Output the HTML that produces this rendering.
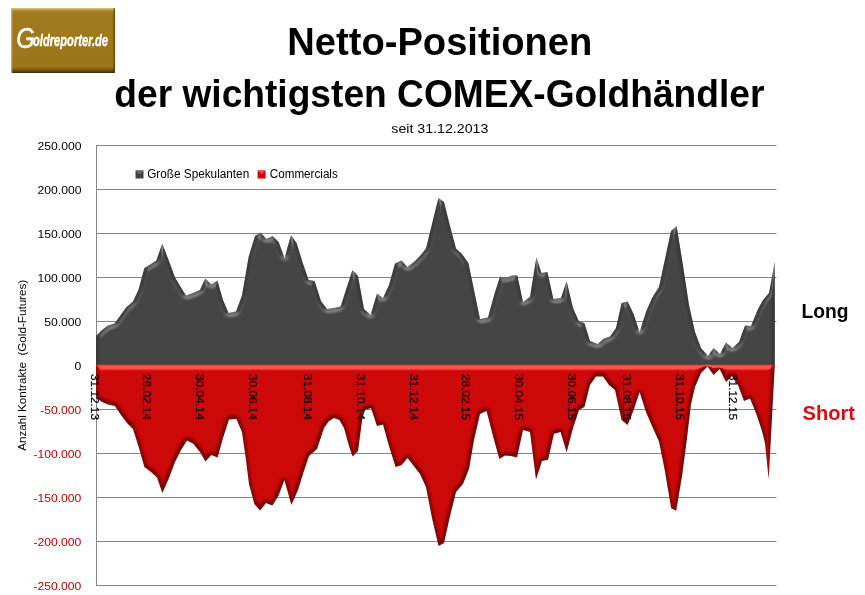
<!DOCTYPE html>
<html lang="de"><head><meta charset="utf-8"><title>Netto-Positionen der wichtigsten COMEX-Goldhändler</title>
<style>html,body{margin:0;padding:0;background:#fff}body{width:865px;height:595px;overflow:hidden}</style></head>
<body>
<svg width="865" height="595" viewBox="0 0 865 595" style="display:block">
<defs>
<linearGradient id="lgv" x1="0" y1="0" x2="0" y2="1">
<stop offset="0" stop-color="#dcc88e"/><stop offset="0.045" stop-color="#a8842a"/><stop offset="0.09" stop-color="#a07a1c"/><stop offset="0.9" stop-color="#9c7619"/><stop offset="0.95" stop-color="#7a5a0e"/><stop offset="1" stop-color="#3e2a02"/>
</linearGradient>
<linearGradient id="lgl" x1="0" y1="0" x2="1" y2="0"><stop offset="0" stop-color="#d8c48a" stop-opacity="0.9"/><stop offset="1" stop-color="#d8c48a" stop-opacity="0"/></linearGradient>
<linearGradient id="lgr" x1="0" y1="0" x2="1" y2="0"><stop offset="0" stop-color="#4a3404" stop-opacity="0"/><stop offset="1" stop-color="#4a3404" stop-opacity="0.85"/></linearGradient>
<filter id="b1" x="-5%" y="-5%" width="110%" height="110%"><feGaussianBlur stdDeviation="0.7"/></filter>
<filter id="b2" x="-5%" y="-5%" width="110%" height="110%"><feGaussianBlur stdDeviation="0.9"/></filter>

<clipPath id="cg"><polygon points="96.0,364.5 96.0,336.0 102.0,330.0 108.0,325.6 114.4,323.4 120.0,316.0 126.0,307.4 133.0,301.6 138.4,290.0 144.4,268.0 151.0,264.0 156.4,260.4 162.2,243.6 169.0,261.0 175.0,277.4 181.0,287.4 186.0,295.4 193.0,293.0 200.0,290.0 205.2,278.6 211.4,284.4 217.4,280.4 223.0,300.0 228.6,313.0 236.0,311.4 242.0,295.4 248.6,257.0 255.0,236.0 260.4,232.6 266.4,239.0 272.6,236.0 278.6,242.0 284.6,258.0 291.0,235.0 296.6,243.0 302.6,262.5 308.6,280.0 314.6,281.0 321.0,301.0 327.0,309.0 334.0,308.0 340.6,306.6 346.6,288.0 352.4,270.0 358.0,276.0 364.0,309.0 370.6,315.0 377.0,293.4 383.0,298.0 389.0,285.0 395.0,263.4 401.4,260.6 407.4,267.0 414.0,262.0 420.0,256.0 426.0,248.5 433.0,220.0 438.4,198.0 444.0,202.0 450.0,226.0 456.0,248.6 462.0,254.0 468.4,263.0 474.0,290.0 480.0,319.0 488.0,317.6 494.0,295.5 500.0,276.4 506.0,278.0 512.0,275.6 517.4,275.6 523.0,302.0 530.0,297.0 536.4,257.2 541.4,273.0 547.4,272.0 553.4,299.0 561.0,298.0 566.6,281.0 573.0,308.0 579.0,321.6 584.4,323.0 590.0,341.0 597.6,344.0 604.0,338.4 610.0,336.4 616.0,328.0 621.6,303.0 627.6,301.6 633.6,314.0 639.6,332.0 646.0,312.0 652.0,298.0 659.0,287.0 665.0,259.0 671.0,231.0 676.6,226.0 682.6,263.0 689.0,305.0 695.0,332.0 701.0,348.0 708.0,356.0 713.6,348.0 720.0,354.0 726.0,342.4 732.4,348.0 739.0,342.0 745.0,325.6 751.0,326.0 758.0,309.0 763.0,300.0 769.0,293.0 774.8,262.0 774.8,364.5"/></clipPath>
<clipPath id="cr"><polygon points="96.0,364.4 96.0,397.5 102.0,402.0 108.0,404.4 115.0,406.0 121.0,415.0 127.0,423.0 133.0,429.0 139.0,448.0 144.4,467.0 151.0,472.0 157.0,477.4 162.4,493.0 169.0,478.0 175.0,462.0 181.0,450.0 187.0,440.6 193.0,443.6 200.0,452.0 205.4,461.6 211.4,455.0 217.6,457.4 223.0,438.0 229.0,419.4 236.4,419.0 242.0,432.0 246.0,460.0 249.0,484.0 254.4,504.0 260.0,510.4 266.0,503.0 272.4,505.4 278.4,496.0 284.4,480.0 291.4,505.0 298.0,490.0 303.6,472.0 309.0,456.0 317.0,449.0 324.0,428.0 329.0,421.0 334.0,418.0 339.4,420.0 344.0,428.0 349.0,446.0 352.6,456.4 358.0,451.0 362.4,418.0 365.0,410.0 371.0,408.0 377.0,426.0 383.0,424.4 389.0,446.0 395.6,467.0 401.6,465.0 407.6,458.0 413.0,465.0 420.0,474.0 426.0,487.0 432.0,518.0 438.6,546.0 444.0,543.0 450.0,516.0 456.0,492.0 463.0,484.0 469.0,469.0 474.0,440.0 480.0,414.0 486.6,411.0 493.0,436.0 499.4,459.0 505.0,455.6 511.0,456.0 517.0,457.5 523.0,430.0 530.0,432.0 536.0,479.6 542.0,461.0 548.0,459.8 554.0,433.8 560.6,432.0 566.6,452.2 573.0,428.0 579.0,410.0 584.4,407.0 590.0,385.0 596.0,376.4 603.0,376.4 609.0,385.0 615.0,390.0 621.6,420.0 627.6,425.0 633.6,410.0 639.6,392.0 646.0,412.0 652.0,426.0 659.0,441.5 664.5,468.7 671.2,508.2 676.2,510.8 682.1,475.5 687.0,438.0 691.0,404.0 695.0,387.0 701.0,373.0 707.5,366.5 713.6,375.0 719.6,369.0 726.0,382.0 732.0,376.0 738.0,385.0 744.0,401.0 750.0,398.4 756.0,413.0 762.0,431.0 765.0,443.0 768.7,479.0 774.8,364.4"/></clipPath>
</defs>
<rect width="865" height="595" fill="#fff"/>
<line x1="96.0" y1="145.5" x2="776.5" y2="145.5" stroke="#868686" stroke-width="1"/>
<line x1="96.0" y1="189.5" x2="776.5" y2="189.5" stroke="#868686" stroke-width="1"/>
<line x1="96.0" y1="233.5" x2="776.5" y2="233.5" stroke="#868686" stroke-width="1"/>
<line x1="96.0" y1="277.5" x2="776.5" y2="277.5" stroke="#868686" stroke-width="1"/>
<line x1="96.0" y1="321.5" x2="776.5" y2="321.5" stroke="#868686" stroke-width="1"/>
<line x1="96.0" y1="409.5" x2="776.5" y2="409.5" stroke="#868686" stroke-width="1"/>
<line x1="96.0" y1="453.5" x2="776.5" y2="453.5" stroke="#868686" stroke-width="1"/>
<line x1="96.0" y1="497.5" x2="776.5" y2="497.5" stroke="#868686" stroke-width="1"/>
<line x1="96.0" y1="541.5" x2="776.5" y2="541.5" stroke="#868686" stroke-width="1"/>
<line x1="96.0" y1="585.5" x2="776.5" y2="585.5" stroke="#868686" stroke-width="1"/>
<line x1="96.5" y1="145" x2="96.5" y2="586" stroke="#868686" stroke-width="1"/>
<defs><filter id="bevG" filterUnits="userSpaceOnUse" x="80" y="130" width="710" height="470" color-interpolation-filters="sRGB"><feGaussianBlur in="SourceAlpha" stdDeviation="2.3" result="h"/><feDiffuseLighting in="h" surfaceScale="6.0" diffuseConstant="1" lighting-color="#fff" result="d"><feDistantLight azimuth="266" elevation="50"/></feDiffuseLighting><feComponentTransfer in="d" result="m"><feFuncR type="table" tableValues="0.780 0.780 0.780 0.780 0.780 0.780 0.780 0.780 0.780 0.780 0.780 0.791 0.801 0.812 0.823 0.833 0.844 0.855 0.865 0.876 0.887 0.897 0.908 0.919 0.929 0.940 0.951 0.961 0.972 0.983 0.993 1.000 1.000 1.000 1.000 1.000 1.000 1.000 1.000 1.000 1.000"/><feFuncG type="table" tableValues="0.780 0.780 0.780 0.780 0.780 0.780 0.780 0.780 0.780 0.780 0.780 0.791 0.801 0.812 0.823 0.833 0.844 0.855 0.865 0.876 0.887 0.897 0.908 0.919 0.929 0.940 0.951 0.961 0.972 0.983 0.993 1.000 1.000 1.000 1.000 1.000 1.000 1.000 1.000 1.000 1.000"/><feFuncB type="table" tableValues="0.780 0.780 0.780 0.780 0.780 0.780 0.780 0.780 0.780 0.780 0.780 0.791 0.801 0.812 0.823 0.833 0.844 0.855 0.865 0.876 0.887 0.897 0.908 0.919 0.929 0.940 0.951 0.961 0.972 0.983 0.993 1.000 1.000 1.000 1.000 1.000 1.000 1.000 1.000 1.000 1.000"/></feComponentTransfer><feComponentTransfer in="d" result="hl"><feFuncR type="table" tableValues="0.000 0.000 0.000 0.000 0.000 0.000 0.000 0.000 0.000 0.000 0.000 0.000 0.000 0.000 0.000 0.000 0.000 0.000 0.000 0.000 0.000 0.000 0.000 0.000 0.000 0.000 0.000 0.000 0.000 0.000 0.000 0.009 0.033 0.058 0.082 0.107 0.131 0.156 0.180 0.200 0.200"/><feFuncG type="table" tableValues="0.000 0.000 0.000 0.000 0.000 0.000 0.000 0.000 0.000 0.000 0.000 0.000 0.000 0.000 0.000 0.000 0.000 0.000 0.000 0.000 0.000 0.000 0.000 0.000 0.000 0.000 0.000 0.000 0.000 0.000 0.000 0.009 0.033 0.058 0.082 0.107 0.131 0.156 0.180 0.200 0.200"/><feFuncB type="table" tableValues="0.000 0.000 0.000 0.000 0.000 0.000 0.000 0.000 0.000 0.000 0.000 0.000 0.000 0.000 0.000 0.000 0.000 0.000 0.000 0.000 0.000 0.000 0.000 0.000 0.000 0.000 0.000 0.000 0.000 0.000 0.000 0.009 0.033 0.058 0.082 0.107 0.131 0.156 0.180 0.200 0.200"/></feComponentTransfer><feComposite in="SourceGraphic" in2="m" operator="arithmetic" k1="1" k2="0" k3="0" k4="0" result="sh"/><feComposite in="sh" in2="hl" operator="arithmetic" k1="0" k2="1" k3="1" k4="0" result="lit"/><feComposite in="lit" in2="SourceAlpha" operator="in"/></filter><filter id="bevR" filterUnits="userSpaceOnUse" x="80" y="130" width="710" height="470" color-interpolation-filters="sRGB"><feGaussianBlur in="SourceAlpha" stdDeviation="2.2" result="h"/><feDiffuseLighting in="h" surfaceScale="6.0" diffuseConstant="1" lighting-color="#fff" result="d"><feDistantLight azimuth="262" elevation="50"/></feDiffuseLighting><feComponentTransfer in="d" result="m"><feFuncR type="table" tableValues="0.640 0.640 0.640 0.640 0.640 0.640 0.640 0.640 0.640 0.640 0.640 0.657 0.675 0.692 0.710 0.727 0.745 0.762 0.780 0.797 0.814 0.832 0.849 0.867 0.884 0.902 0.919 0.936 0.954 0.971 0.989 1.000 1.000 1.000 1.000 1.000 1.000 1.000 1.000 1.000 1.000"/><feFuncG type="table" tableValues="0.640 0.640 0.640 0.640 0.640 0.640 0.640 0.640 0.640 0.640 0.640 0.657 0.675 0.692 0.710 0.727 0.745 0.762 0.780 0.797 0.814 0.832 0.849 0.867 0.884 0.902 0.919 0.936 0.954 0.971 0.989 1.000 1.000 1.000 1.000 1.000 1.000 1.000 1.000 1.000 1.000"/><feFuncB type="table" tableValues="0.640 0.640 0.640 0.640 0.640 0.640 0.640 0.640 0.640 0.640 0.640 0.657 0.675 0.692 0.710 0.727 0.745 0.762 0.780 0.797 0.814 0.832 0.849 0.867 0.884 0.902 0.919 0.936 0.954 0.971 0.989 1.000 1.000 1.000 1.000 1.000 1.000 1.000 1.000 1.000 1.000"/></feComponentTransfer><feComponentTransfer in="d" result="hl"><feFuncR type="table" tableValues="0.000 0.000 0.000 0.000 0.000 0.000 0.000 0.000 0.000 0.000 0.000 0.000 0.000 0.000 0.000 0.000 0.000 0.000 0.000 0.000 0.000 0.000 0.000 0.000 0.000 0.000 0.000 0.000 0.000 0.000 0.000 0.013 0.050 0.087 0.123 0.160 0.197 0.234 0.271 0.300 0.300"/><feFuncG type="table" tableValues="0.000 0.000 0.000 0.000 0.000 0.000 0.000 0.000 0.000 0.000 0.000 0.000 0.000 0.000 0.000 0.000 0.000 0.000 0.000 0.000 0.000 0.000 0.000 0.000 0.000 0.000 0.000 0.000 0.000 0.000 0.000 0.013 0.050 0.087 0.123 0.160 0.197 0.234 0.271 0.300 0.300"/><feFuncB type="table" tableValues="0.000 0.000 0.000 0.000 0.000 0.000 0.000 0.000 0.000 0.000 0.000 0.000 0.000 0.000 0.000 0.000 0.000 0.000 0.000 0.000 0.000 0.000 0.000 0.000 0.000 0.000 0.000 0.000 0.000 0.000 0.000 0.013 0.050 0.087 0.123 0.160 0.197 0.234 0.271 0.300 0.300"/></feComponentTransfer><feComposite in="SourceGraphic" in2="m" operator="arithmetic" k1="1" k2="0" k3="0" k4="0" result="sh"/><feComposite in="sh" in2="hl" operator="arithmetic" k1="0" k2="1" k3="1" k4="0" result="lit"/><feComposite in="lit" in2="SourceAlpha" operator="in"/></filter>
<clipPath id="ctop"><rect x="0" y="0" width="865" height="365.0"/></clipPath></defs>
<g clip-path="url(#ctop)"><polygon points="96.0,373.5 96.0,336.0 102.0,330.0 108.0,325.6 114.4,323.4 120.0,316.0 126.0,307.4 133.0,301.6 138.4,290.0 144.4,268.0 151.0,264.0 156.4,260.4 162.2,243.6 169.0,261.0 175.0,277.4 181.0,287.4 186.0,295.4 193.0,293.0 200.0,290.0 205.2,278.6 211.4,284.4 217.4,280.4 223.0,300.0 228.6,313.0 236.0,311.4 242.0,295.4 248.6,257.0 255.0,236.0 260.4,232.6 266.4,239.0 272.6,236.0 278.6,242.0 284.6,258.0 291.0,235.0 296.6,243.0 302.6,262.5 308.6,280.0 314.6,281.0 321.0,301.0 327.0,309.0 334.0,308.0 340.6,306.6 346.6,288.0 352.4,270.0 358.0,276.0 364.0,309.0 370.6,315.0 377.0,293.4 383.0,298.0 389.0,285.0 395.0,263.4 401.4,260.6 407.4,267.0 414.0,262.0 420.0,256.0 426.0,248.5 433.0,220.0 438.4,198.0 444.0,202.0 450.0,226.0 456.0,248.6 462.0,254.0 468.4,263.0 474.0,290.0 480.0,319.0 488.0,317.6 494.0,295.5 500.0,276.4 506.0,278.0 512.0,275.6 517.4,275.6 523.0,302.0 530.0,297.0 536.4,257.2 541.4,273.0 547.4,272.0 553.4,299.0 561.0,298.0 566.6,281.0 573.0,308.0 579.0,321.6 584.4,323.0 590.0,341.0 597.6,344.0 604.0,338.4 610.0,336.4 616.0,328.0 621.6,303.0 627.6,301.6 633.6,314.0 639.6,332.0 646.0,312.0 652.0,298.0 659.0,287.0 665.0,259.0 671.0,231.0 676.6,226.0 682.6,263.0 689.0,305.0 695.0,332.0 701.0,348.0 708.0,356.0 713.6,348.0 720.0,354.0 726.0,342.4 732.4,348.0 739.0,342.0 745.0,325.6 751.0,326.0 758.0,309.0 763.0,300.0 769.0,293.0 774.8,262.0 774.8,373.5" fill="#444" filter="url(#bevG)"/></g>
<polygon points="96.0,364.4 96.0,397.5 102.0,402.0 108.0,404.4 115.0,406.0 121.0,415.0 127.0,423.0 133.0,429.0 139.0,448.0 144.4,467.0 151.0,472.0 157.0,477.4 162.4,493.0 169.0,478.0 175.0,462.0 181.0,450.0 187.0,440.6 193.0,443.6 200.0,452.0 205.4,461.6 211.4,455.0 217.6,457.4 223.0,438.0 229.0,419.4 236.4,419.0 242.0,432.0 246.0,460.0 249.0,484.0 254.4,504.0 260.0,510.4 266.0,503.0 272.4,505.4 278.4,496.0 284.4,480.0 291.4,505.0 298.0,490.0 303.6,472.0 309.0,456.0 317.0,449.0 324.0,428.0 329.0,421.0 334.0,418.0 339.4,420.0 344.0,428.0 349.0,446.0 352.6,456.4 358.0,451.0 362.4,418.0 365.0,410.0 371.0,408.0 377.0,426.0 383.0,424.4 389.0,446.0 395.6,467.0 401.6,465.0 407.6,458.0 413.0,465.0 420.0,474.0 426.0,487.0 432.0,518.0 438.6,546.0 444.0,543.0 450.0,516.0 456.0,492.0 463.0,484.0 469.0,469.0 474.0,440.0 480.0,414.0 486.6,411.0 493.0,436.0 499.4,459.0 505.0,455.6 511.0,456.0 517.0,457.5 523.0,430.0 530.0,432.0 536.0,479.6 542.0,461.0 548.0,459.8 554.0,433.8 560.6,432.0 566.6,452.2 573.0,428.0 579.0,410.0 584.4,407.0 590.0,385.0 596.0,376.4 603.0,376.4 609.0,385.0 615.0,390.0 621.6,420.0 627.6,425.0 633.6,410.0 639.6,392.0 646.0,412.0 652.0,426.0 659.0,441.5 664.5,468.7 671.2,508.2 676.2,510.8 682.1,475.5 687.0,438.0 691.0,404.0 695.0,387.0 701.0,373.0 707.5,366.5 713.6,375.0 719.6,369.0 726.0,382.0 732.0,376.0 738.0,385.0 744.0,401.0 750.0,398.4 756.0,413.0 762.0,431.0 765.0,443.0 768.7,479.0 774.8,364.4" fill="#ce0707" filter="url(#bevR)"/>
<text transform="translate(90.6,374) rotate(90)" font-family="'Liberation Sans',sans-serif" font-size="11.3" textLength="46" lengthAdjust="spacingAndGlyphs" fill="#000" stroke="#000" stroke-width="0.2">31.12.13</text>
<text transform="translate(142.7,374) rotate(90)" font-family="'Liberation Sans',sans-serif" font-size="11.3" textLength="46" lengthAdjust="spacingAndGlyphs" fill="#000" stroke="#000" stroke-width="0.2">28.02.14</text>
<text transform="translate(196.0,374) rotate(90)" font-family="'Liberation Sans',sans-serif" font-size="11.3" textLength="46" lengthAdjust="spacingAndGlyphs" fill="#000" stroke="#000" stroke-width="0.2">30.04.14</text>
<text transform="translate(249.3,374) rotate(90)" font-family="'Liberation Sans',sans-serif" font-size="11.3" textLength="46" lengthAdjust="spacingAndGlyphs" fill="#000" stroke="#000" stroke-width="0.2">30.06.14</text>
<text transform="translate(303.5,374) rotate(90)" font-family="'Liberation Sans',sans-serif" font-size="11.3" textLength="46" lengthAdjust="spacingAndGlyphs" fill="#000" stroke="#000" stroke-width="0.2">31.08.14</text>
<text transform="translate(356.8,374) rotate(90)" font-family="'Liberation Sans',sans-serif" font-size="11.3" textLength="46" lengthAdjust="spacingAndGlyphs" fill="#000" stroke="#000" stroke-width="0.2">31.10.14</text>
<text transform="translate(410.1,374) rotate(90)" font-family="'Liberation Sans',sans-serif" font-size="11.3" textLength="46" lengthAdjust="spacingAndGlyphs" fill="#000" stroke="#000" stroke-width="0.2">31.12.14</text>
<text transform="translate(461.7,374) rotate(90)" font-family="'Liberation Sans',sans-serif" font-size="11.3" textLength="46" lengthAdjust="spacingAndGlyphs" fill="#000" stroke="#000" stroke-width="0.2">28.02.15</text>
<text transform="translate(515.0,374) rotate(90)" font-family="'Liberation Sans',sans-serif" font-size="11.3" textLength="46" lengthAdjust="spacingAndGlyphs" fill="#000" stroke="#000" stroke-width="0.2">30.04.15</text>
<text transform="translate(568.3,374) rotate(90)" font-family="'Liberation Sans',sans-serif" font-size="11.3" textLength="46" lengthAdjust="spacingAndGlyphs" fill="#000" stroke="#000" stroke-width="0.2">30.06.15</text>
<text transform="translate(622.5,374) rotate(90)" font-family="'Liberation Sans',sans-serif" font-size="11.3" textLength="46" lengthAdjust="spacingAndGlyphs" fill="#000" stroke="#000" stroke-width="0.2">31.08.15</text>
<text transform="translate(675.8,374) rotate(90)" font-family="'Liberation Sans',sans-serif" font-size="11.3" textLength="46" lengthAdjust="spacingAndGlyphs" fill="#000" stroke="#000" stroke-width="0.2">31.10.15</text>
<text transform="translate(729.1,374) rotate(90)" font-family="'Liberation Sans',sans-serif" font-size="11.3" textLength="46" lengthAdjust="spacingAndGlyphs" fill="#000" stroke="#000" stroke-width="0.2">31.12.15</text>
<text x="81.4" y="149.8" text-anchor="end" font-family="'Liberation Sans',sans-serif" font-size="10.6" textLength="43.9" lengthAdjust="spacingAndGlyphs" fill="#000">250.000</text>
<text x="81.4" y="193.8" text-anchor="end" font-family="'Liberation Sans',sans-serif" font-size="10.6" textLength="43.9" lengthAdjust="spacingAndGlyphs" fill="#000">200.000</text>
<text x="81.4" y="237.8" text-anchor="end" font-family="'Liberation Sans',sans-serif" font-size="10.6" textLength="43.9" lengthAdjust="spacingAndGlyphs" fill="#000">150.000</text>
<text x="81.4" y="281.8" text-anchor="end" font-family="'Liberation Sans',sans-serif" font-size="10.6" textLength="43.9" lengthAdjust="spacingAndGlyphs" fill="#000">100.000</text>
<text x="81.4" y="325.8" text-anchor="end" font-family="'Liberation Sans',sans-serif" font-size="10.6" textLength="37.2" lengthAdjust="spacingAndGlyphs" fill="#000">50.000</text>
<text x="81.4" y="369.8" text-anchor="end" font-family="'Liberation Sans',sans-serif" font-size="10.6" textLength="6.8" lengthAdjust="spacingAndGlyphs" fill="#000">0</text>
<text x="81.4" y="413.8" text-anchor="end" font-family="'Liberation Sans',sans-serif" font-size="10.6" textLength="41.2" lengthAdjust="spacingAndGlyphs" fill="#c00000">-50.000</text>
<text x="81.4" y="457.8" text-anchor="end" font-family="'Liberation Sans',sans-serif" font-size="10.6" textLength="48.0" lengthAdjust="spacingAndGlyphs" fill="#c00000">-100.000</text>
<text x="81.4" y="501.8" text-anchor="end" font-family="'Liberation Sans',sans-serif" font-size="10.6" textLength="48.0" lengthAdjust="spacingAndGlyphs" fill="#c00000">-150.000</text>
<text x="81.4" y="545.8" text-anchor="end" font-family="'Liberation Sans',sans-serif" font-size="10.6" textLength="48.0" lengthAdjust="spacingAndGlyphs" fill="#c00000">-200.000</text>
<text x="81.4" y="589.8" text-anchor="end" font-family="'Liberation Sans',sans-serif" font-size="10.6" textLength="48.0" lengthAdjust="spacingAndGlyphs" fill="#c00000">-250.000</text>
<text transform="translate(25.8,450.8) rotate(-90)" font-family="'Liberation Sans',sans-serif" font-size="11.6" textLength="171" lengthAdjust="spacingAndGlyphs" fill="#000" xml:space="preserve">Anzahl Kontrakte  (Gold-Futures)</text>
<rect x="135.5" y="170.5" width="8" height="8" fill="#404040"/>
<path d="M135.5 170.5h8l-4 4z" fill="#6a6a6a"/>
<text x="147.2" y="178" font-family="'Liberation Sans',sans-serif" font-size="12" textLength="102" lengthAdjust="spacingAndGlyphs" fill="#000">Große Spekulanten</text>
<rect x="257.6" y="170.5" width="8" height="8" fill="#c80808"/>
<path d="M257.6 170.5h8l-4 4z" fill="#ff4040"/>
<text x="269.8" y="178" font-family="'Liberation Sans',sans-serif" font-size="12" textLength="68" lengthAdjust="spacingAndGlyphs" fill="#000">Commercials</text>
<text x="287.3" y="54.7" font-family="'Liberation Sans',sans-serif" font-weight="bold" font-size="38" textLength="305" lengthAdjust="spacingAndGlyphs" fill="#000">Netto-Positionen</text>
<text x="114.3" y="106.7" font-family="'Liberation Sans',sans-serif" font-weight="bold" font-size="38" textLength="650.1" lengthAdjust="spacingAndGlyphs" fill="#000">der wichtigsten COMEX-Goldhändler</text>
<text x="391.3" y="132.7" font-family="'Liberation Sans',sans-serif" font-size="13.4" textLength="97" lengthAdjust="spacingAndGlyphs" fill="#000">seit 31.12.2013</text>
<text x="801.4" y="318.4" font-family="'Liberation Sans',sans-serif" font-weight="bold" font-size="19.5" textLength="47" lengthAdjust="spacingAndGlyphs" fill="#000">Long</text>
<text x="802.6" y="420.3" font-family="'Liberation Sans',sans-serif" font-weight="bold" font-size="19.5" textLength="52.4" lengthAdjust="spacingAndGlyphs" fill="#dd0a14">Short</text>
<rect x="11" y="8" width="104" height="65" fill="url(#lgv)"/>
<rect x="11" y="8" width="2" height="65" fill="url(#lgl)"/>
<rect x="112.5" y="8" width="2.5" height="65" fill="url(#lgr)"/>
<text x="16.2" y="48.4" font-family="'Liberation Sans',sans-serif" font-style="italic" font-size="30" fill="#fff" stroke="#fff" stroke-width="0.5" textLength="18.5" lengthAdjust="spacingAndGlyphs">G</text>
<text x="33.0" y="46.1" font-family="'Liberation Sans',sans-serif" font-style="italic" font-weight="bold" font-size="17" fill="#fff" stroke="#fff" stroke-width="0.45" textLength="75" lengthAdjust="spacingAndGlyphs">oldreporter.de</text>
</svg>
</body></html>
